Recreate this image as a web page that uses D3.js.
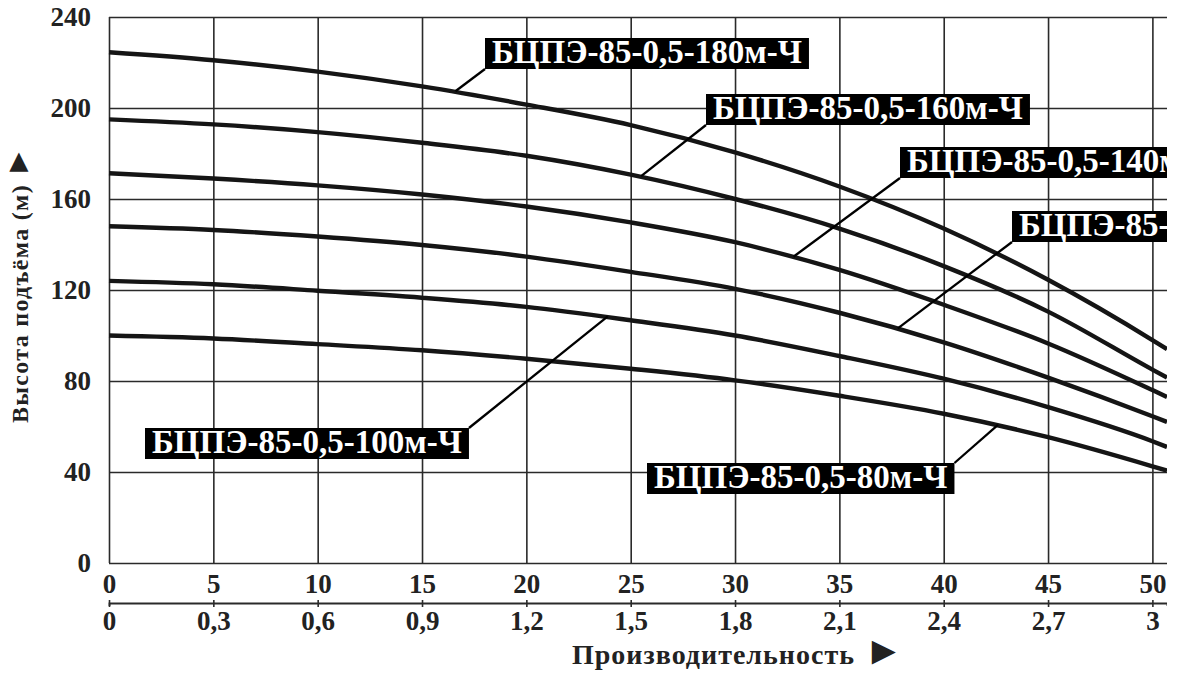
<!DOCTYPE html>
<html>
<head>
<meta charset="utf-8">
<script src="https://cdn.jsdelivr.net/npm/d3@7"></script>
<style>
  body { margin: 0; background: #fff; }
  svg { display: block; }
  .gt text { font-family: 'Liberation Serif', 'Times New Roman', serif; font-weight: bold; fill: #222; }
</style>
</head>
<body>
<script>
// производительность, м3/ч
const flow = [0, 5, 10, 15, 20, 25, 30, 35, 40, 45, 50, 50.7];

// напор, м
const head180 = [224.5, 221, 216, 209.5, 201.5, 192.5, 180.5, 165.5, 147, 124.5, 98, 94];
const head160 = [195, 192.8, 189.4, 184.7, 179, 170.7, 160, 147, 130.5, 110.5, 85, 81.5];
const head140 = [171.3, 169, 166, 162, 156.7, 149.7, 141, 128.8, 113.5, 96.5, 76, 73];
const head120 = [148, 146.4, 143.5, 139.8, 134.7, 128, 120.5, 110, 97, 81.5, 64.5, 62];
const head100 = [124, 122.5, 119.7, 116.6, 112.6, 106.7, 100, 91, 81, 68.5, 53.5, 51];
const head80  = [100, 98.7, 96.2, 93.5, 89.8, 85.4, 80.3, 73.5, 65.6, 55.3, 42.5, 40.6];

const series = [head180, head160, head140, head120, head100, head80];
const names = ['БЦПЭ-85-0,5-180м-Ч', 'БЦПЭ-85-0,5-160м-Ч', 'БЦПЭ-85-0,5-140м-Ч',
               'БЦПЭ-85-0,5-120м-Ч', 'БЦПЭ-85-0,5-100м-Ч', 'БЦПЭ-85-0,5-80м-Ч'];
// where each leader touches its curve (flow value)
const leaderFlow = [16.6, 25.5, 32.8, 37.8, 23.9, 42.6];

const flowTicks = [0, 5, 10, 15, 20, 25, 30, 35, 40, 45, 50];
const headTicks = [0, 40, 80, 120, 160, 200, 240];
const lpsTicks = [0, 0.3, 0.6, 0.9, 1.2, 1.5, 1.8, 2.1, 2.4, 2.7, 3];

// label box placement (px): anchor corner of the leader
const boxPos = [
  {x: 485, y: 38, corner: 'bl'},
  {x: 706, y: 94, corner: 'bl'},
  {x: 900, y: 147, corner: 'bl'},
  {x: 1012, y: 211, corner: 'bl'},
  {x: 145, y: 428, corner: 'tr'},
  {x: 647, y: 463, corner: 'tr'}
];

const W = 1199, H = 676;
const pLeft = 109, pRight = 1167, pTop = 17, pBottom = 563;

const x = d3.scaleLinear().domain([0, 50.7]).range([pLeft, pRight]);
const x2 = d3.scaleLinear().domain([0, 50.7 * 0.06]).range([pLeft, pRight]);
const y = d3.scaleLinear().domain([0, 240]).range([pBottom, pTop]);

const svg = d3.select('body').append('svg')
  .attr('width', W).attr('height', H);

svg.append('defs').append('clipPath').attr('id', 'crop')
  .append('rect').attr('x', 0).attr('y', 0).attr('width', pRight).attr('height', H);

const root = svg.append('g').attr('clip-path', 'url(#crop)');
const serif = "'Liberation Serif', 'Times New Roman', serif";

// vertical grid + flow labels
const gx = root.append('g').attr('class', 'gt')
  .attr('transform', `translate(0,${pBottom})`)
  .call(d3.axisBottom(x).tickValues(flowTicks).tickSize(-(pBottom - pTop)).tickPadding(11).tickFormat(d3.format('d')));
gx.select('.domain').remove();
gx.selectAll('.tick line').attr('stroke', '#2a2a2a').attr('stroke-width', 1.6);
gx.selectAll('.tick text').attr('font-size', 27);

// horizontal grid + head labels
const gy = root.append('g').attr('class', 'gt')
  .attr('transform', `translate(${pLeft},0)`)
  .call(d3.axisLeft(y).tickValues(headTicks).tickSize(-(pRight - pLeft)).tickPadding(18).tickFormat(d3.format('d')));
gy.select('.domain').remove();
gy.selectAll('.tick line').attr('stroke', '#2a2a2a').attr('stroke-width', 1.6);
gy.selectAll('.tick text').attr('font-size', 27);

// second scale, l/s
const comma = d3.formatLocale({decimal: ',', thousands: ' ', grouping: [3], currency: ['', '']});
const gx2 = root.append('g').attr('class', 'gt')
  .attr('transform', 'translate(0,603)')
  .call(d3.axisBottom(x2).tickValues(lpsTicks).tickSizeOuter(0).tickSize(3).tickPadding(5).tickFormat(comma.format('.1~f')));
gx2.select('.domain').attr('stroke', '#2a2a2a').attr('stroke-width', 1.8);
gx2.selectAll('.tick line').attr('y1', -3).attr('y2', 4).attr('stroke', '#2a2a2a').attr('stroke-width', 1.6);
gx2.selectAll('.tick text').attr('font-size', 27);

// curves
const line = d3.line()
  .x((d, i) => x(flow[i]))
  .y(d => y(d))
  .curve(d3.curveMonotoneX);

root.append('g').selectAll('path')
  .data(series)
  .enter().append('path')
    .attr('d', line)
    .attr('fill', 'none')
    .attr('stroke', '#151515')
    .attr('stroke-width', 4.4);

// labels with leaders
function headAt(s, q) {
  const i = Math.max(1, d3.bisectLeft(flow, q));
  const t = (q - flow[i - 1]) / (flow[i] - flow[i - 1]);
  return s[i - 1] + t * (s[i] - s[i - 1]);
}

const boxH = 31;
const lab = root.append('g');
names.forEach((name, k) => {
  const p = boxPos[k];
  const g = lab.append('g');
  const rect = g.append('rect').attr('fill', '#000');
  const txt = g.append('text')
    .attr('x', p.x + 7)
    .attr('y', p.y + 25)
    .attr('fill', '#fff')
    .attr('font-family', serif)
    .attr('font-weight', 'bold')
    .attr('font-size', 33)
    .text(name);
  const tw = txt.node().getComputedTextLength();
  const bw = tw + 14;
  rect.attr('x', p.x).attr('y', p.y).attr('width', bw).attr('height', boxH);

  const ax = p.corner === 'bl' ? p.x : p.x + bw;
  const ay = p.corner === 'bl' ? p.y + boxH : p.y;
  const q = leaderFlow[k];
  g.insert('line', 'rect')
    .attr('x1', ax).attr('y1', ay)
    .attr('x2', x(q)).attr('y2', y(headAt(series[k], q)) - 1)
    .attr('stroke', '#000')
    .attr('stroke-width', 2.3);
});

// axis titles (the arrow is ► turned with the text, so it points up)
const yt = svg.append('text')
  .attr('transform', 'translate(28,423) rotate(-90)')
  .attr('text-anchor', 'start')
  .attr('font-family', serif)
  .attr('font-weight', 'bold')
  .attr('font-size', 24)
  .attr('letter-spacing', 1.3)
  .attr('fill', '#222');
yt.append('tspan').text('Высота подъёма (м)');
yt.append('tspan').attr('dx', 6).attr('font-size', 32).attr('letter-spacing', 0).text('►');

const xt = svg.append('text')
  .attr('x', 572)
  .attr('y', 664)
  .attr('text-anchor', 'start')
  .attr('font-family', serif)
  .attr('font-weight', 'bold')
  .attr('font-size', 28)
  .attr('letter-spacing', 1)
  .attr('fill', '#222');
xt.append('tspan').text('Производительность');
xt.append('tspan').attr('dx', 9).attr('font-size', 40).attr('letter-spacing', 0).text('►');
</script>
</body>
</html>
